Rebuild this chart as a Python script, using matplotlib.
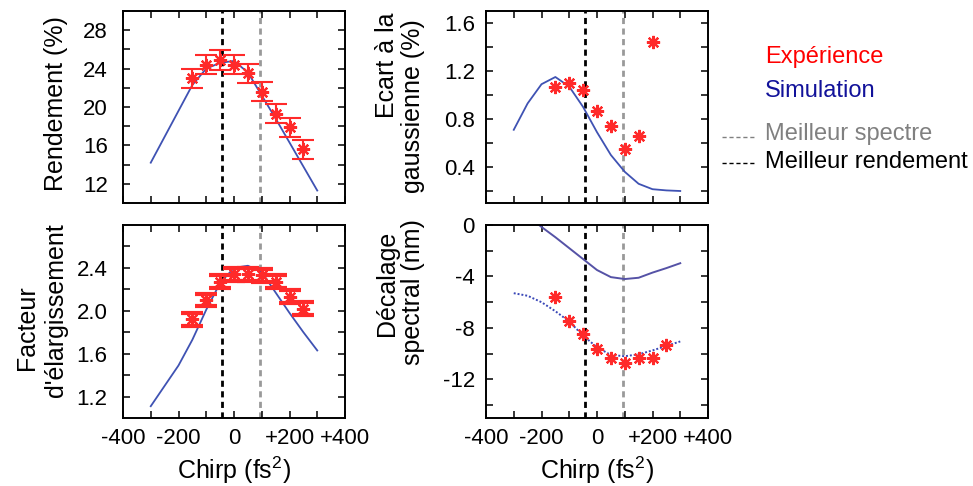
import matplotlib
matplotlib.use("Agg")
import matplotlib.pyplot as plt
import numpy as np

plt.rcParams['font.family'] = ['Liberation Sans', 'DejaVu Sans']
plt.rcParams['mathtext.fontset'] = 'custom'
plt.rcParams['mathtext.rm'] = 'Liberation Sans'
plt.rcParams['mathtext.it'] = 'Liberation Sans:italic'

# ---------------- data ----------------
chirp_sim = [-300, -250, -200, -150, -100, -50, 0, 50, 100, 150, 200, 250, 300]
chirp_exp = [-150, -100, -50, 0, 50, 100, 150, 200, 250]
chirp_exp_ecart = [-150, -100, -50, 0, 50, 100, 150, 200]

rend_sim = [14.2, 16.9, 19.6, 22.3, 24.0, 24.6, 24.8, 23.6, 21.2, 18.8, 16.3, 13.8, 11.3]
rend_exp = [23.0, 24.4, 24.9, 24.4, 23.5, 21.6, 19.3, 17.9, 15.6]
rend_err = [1.0, 1.0, 1.0, 1.0, 1.0, 1.0, 1.0, 1.0, 1.0]

ecart_sim = [0.71, 0.93, 1.09, 1.15, 1.07, 0.90, 0.69, 0.50, 0.36, 0.26, 0.215, 0.205, 0.20]
ecart_exp = [1.07, 1.10, 1.04, 0.87, 0.74, 0.55, 0.66, 1.44]

fact_sim = [1.11, 1.30, 1.49, 1.73, 2.01, 2.26, 2.40, 2.42, 2.36, 2.17, 1.98, 1.80, 1.63]
fact_exp = [1.92, 2.10, 2.27, 2.34, 2.34, 2.33, 2.27, 2.13, 2.02]
fact_err = [0.06, 0.06, 0.06, 0.06, 0.06, 0.06, 0.06, 0.06, 0.06]

chirp_sim_dec = [-250, -200, -150, -100, -50, 0, 50, 100, 150, 200, 250, 300]
dec_sim_solid = [0.7, -0.15, -0.95, -1.8, -2.65, -3.5, -4.05, -4.2, -4.1, -3.7, -3.35, -2.97]
dec_sim_dotted = [-5.3, -5.5, -6.0, -6.7, -7.5, -8.6, -9.5, -10.1, -10.2, -10.05, -9.75, -9.4, -9.05]
dec_exp = [-5.6, -7.45, -8.5, -9.65, -10.35, -10.7, -10.35, -10.35, -9.3]

best_yield = -42
best_spectrum = 95

xticks = [-400, -300, -200, -100, 0, 100, 200, 300, 400]
xticklabels = ['-400', '', '-200', '', '0', '', '+200', '', '+400']

# ---------------- styling ----------------
W, H = 973, 486
fig = plt.figure(figsize=(W / 100, H / 100), dpi=100)

def rect(l, r, t, b):
    return [l / W, 1 - b / H, (r - l) / W, (b - t) / H]

SIM_C = '#3f52b3'
EXP_C = '#ff2a2a'
MARK = (8, 2, 0)
MS = 9.5

def style(ax, ylim, yticks, ylabels, xlabels, ypad):
    ax.set_xlim(-400, 400)
    ax.set_ylim(*ylim)
    ax.set_xticks(xticks)
    ax.set_xticklabels(xlabels)
    ax.set_yticks(yticks)
    ax.set_yticklabels(ylabels)
    ax.tick_params(direction='in', top=True, right=True, length=5, width=1.1,
                   labelsize=16, colors='black')
    ax.tick_params(axis='y', pad=ypad)
    ax.tick_params(axis='x', pad=7)
    for s in ax.spines.values():
        s.set_linewidth(1.4)
    ax.axvline(best_yield, color='black', ls=(0, (2.2, 1.6)), lw=2.0, zorder=1)
    ax.axvline(best_spectrum, color='#999999', ls=(0, (2.2, 1.6)), lw=2.0, zorder=1)

def lab(vals, shown, fmt):
    return [fmt(v) if v in shown else '' for v in vals]

# Top-left: Rendement
ax1 = fig.add_axes(rect(123, 345, 11, 203))
yt = [10, 12, 14, 16, 18, 20, 22, 24, 26, 28, 30]
style(ax1, (10, 30), yt, lab(yt, [12, 16, 20, 24, 28], lambda v: f'{v}'),
      [''] * 9, 11)
ax1.plot(chirp_sim, rend_sim, color=SIM_C, lw=1.3, zorder=2)
ax1.errorbar(chirp_exp, rend_exp, yerr=rend_err, fmt='none', ecolor=EXP_C,
             elinewidth=1.5, capsize=8, capthick=1.5, zorder=3)
ax1.plot(chirp_exp, rend_exp, ls='none', marker=MARK, ms=MS, mew=1.6,
         color=EXP_C, zorder=4)

# Top-right: Ecart
ax2 = fig.add_axes(rect(486, 708, 11, 203))
yt = [0.2, 0.4, 0.6, 0.8, 1.0, 1.2, 1.4, 1.6]
style(ax2, (0.1, 1.7), yt, lab(yt, [0.4, 0.8, 1.2, 1.6], lambda v: f'{v:.1f}'),
      [''] * 9, 8)
ax2.plot(chirp_sim, ecart_sim, color=SIM_C, lw=1.3, zorder=2)
ax2.plot(chirp_exp_ecart, ecart_exp, ls='none', marker=MARK, ms=MS, mew=1.6,
         color=EXP_C, zorder=4)

# Bottom-left: Facteur
ax3 = fig.add_axes(rect(123, 345, 225, 418))
yt = [1.2, 1.4, 1.6, 1.8, 2.0, 2.2, 2.4, 2.6]
style(ax3, (1.0, 2.8), yt, lab(yt, [1.2, 1.6, 2.0, 2.4], lambda v: f'{v:.1f}'),
      xticklabels, 11)
ax3.plot(chirp_sim, fact_sim, color=SIM_C, lw=1.3, zorder=2)
ax3.errorbar(chirp_exp, fact_exp, yerr=fact_err, fmt='none', ecolor=EXP_C,
             elinewidth=1.5, capsize=8, capthick=3.0, zorder=3)
ax3.plot(chirp_exp, fact_exp, ls='none', marker=MARK, ms=MS, mew=1.6,
         color=EXP_C, zorder=4)

# Bottom-right: Décalage
ax4 = fig.add_axes(rect(486, 708, 225, 418))
yt = [-14, -12, -10, -8, -6, -4, -2, 0]
style(ax4, (-15, 0), yt, lab(yt, [0, -4, -8, -12], lambda v: f'{v}'),
      xticklabels, 8)
ax4.plot(chirp_sim_dec, dec_sim_solid, color='#5552a6', lw=1.4, zorder=2)
ax4.plot(chirp_sim, dec_sim_dotted, color='#3a48b8', lw=1.4, ls=(0, (1, 1)), zorder=2)
ax4.plot(chirp_exp, dec_exp, ls='none', marker=MARK, ms=MS, mew=1.6,
         color=EXP_C, zorder=4)

# ---------------- labels (pixel placed) ----------------
def ftext(x, y, s, **kw):
    fig.text(x / W, 1 - y / H, s, **kw)

LS = 18
ftext(56, 104, 'Rendement (%)', rotation=90, ha='center', va='center', fontsize=LS)
ftext(27, 328, 'Facteur', rotation=90, ha='center', va='center', fontsize=LS)
ftext(56, 310, "d'élargissement", rotation=90, ha='center', va='center', fontsize=LS)
ftext(387, 65, 'Ecart à la', rotation=90, ha='center', va='center', fontsize=LS)
ftext(413, 106, 'gaussienne (%)', rotation=90, ha='center', va='center', fontsize=LS)
ftext(387, 283, 'Décalage', rotation=90, ha='center', va='center', fontsize=LS)
ftext(413, 292, 'spectral (nm)', rotation=90, ha='center', va='center', fontsize=LS)
ftext(234, 470, r'Chirp (fs$^{2}$)', ha='center', va='center', fontsize=LS)
ftext(597, 470, r'Chirp (fs$^{2}$)', ha='center', va='center', fontsize=LS)

# legend-like texts
ftext(765, 57, 'Expérience', ha='left', va='center', fontsize=17, color='#ff0000')
ftext(765, 91, 'Simulation', ha='left', va='center', fontsize=17, color='#12129a')
ftext(765, 134, 'Meilleur spectre', ha='left', va='center', fontsize=17, color='#808080')
ftext(765, 162, 'Meilleur rendement', ha='left', va='center', fontsize=17, color='black')
fig.add_artist(plt.Line2D([722 / W, 756 / W], [1 - 137 / H, 1 - 137 / H],
                          color='#808080', lw=1.0, ls=(0, (3, 2))))
fig.add_artist(plt.Line2D([722 / W, 756 / W], [1 - 163 / H, 1 - 163 / H],
                          color='black', lw=1.0, ls=(0, (3, 2))))

fig.savefig('out.png', dpi=100)
